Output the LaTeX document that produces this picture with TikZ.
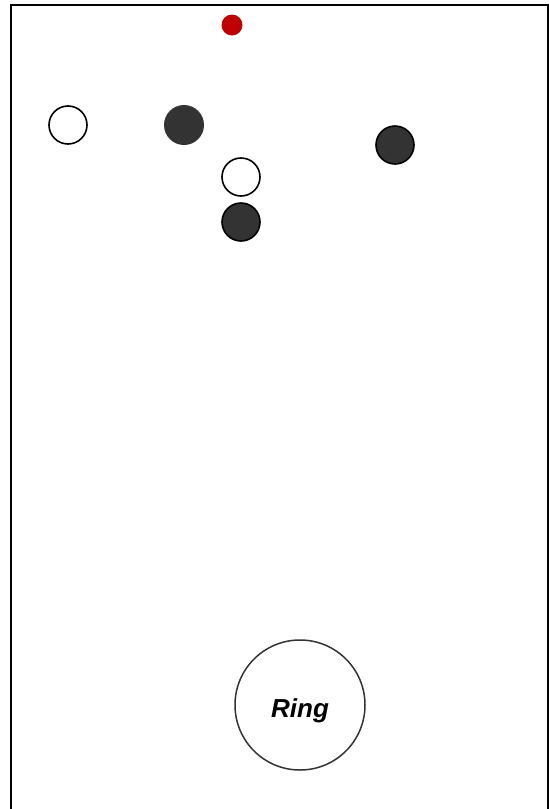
\documentclass[tikz,border=0pt]{standalone}
\usepackage{fontspec}
\setmainfont{Liberation Sans}
\definecolor{dark}{HTML}{333333}
\definecolor{reddot}{HTML}{C00000}
\begin{document}
\begin{tikzpicture}[x=1pt,y=-1pt,
  whiteball/.style={circle,draw=black,line width=1.6pt,fill=white,minimum size=38pt,inner sep=0pt},
  darkball/.style={circle,draw=black,line width=1.6pt,fill=dark,minimum size=38pt,inner sep=0pt},
  darkplain/.style={circle,fill=dark,minimum size=40pt,inner sep=0pt},
  ringnode/.style={circle,draw=dark,line width=1.5pt,fill=white,minimum size=130pt,inner sep=0pt},
  ringtext/.style={font=\fontsize{26}{30}\selectfont\bfseries\itshape,inner sep=0pt}]
\useasboundingbox (0,0) rectangle (549,809);
\fill[white] (0,0) rectangle (549,809);
\draw[line width=2pt] (11,815) -- (11,5) -- (548,5) -- (548,815);
\node[circle,fill=reddot,minimum size=21pt,inner sep=0pt] (red) at (232,25) {};
\node[whiteball] (w1) at (68,125) {};
\node[darkplain] (d1) at (184,125) {};
\node[darkball] (d2) at (395,145) {};
\node[whiteball] (w2) at (241,177) {};
\node[darkball] (d3) at (241,222) {};
\node[ringnode] (ring) at (300,705) {};
\node[ringtext,anchor=base] (ringlabel) at (300,717) {Ring};
\end{tikzpicture}
\end{document}
